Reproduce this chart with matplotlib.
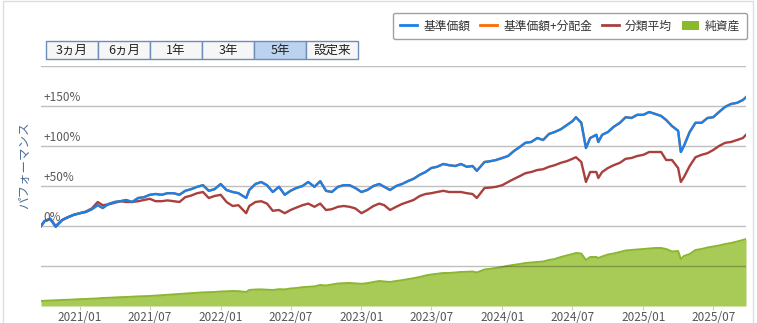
import numpy as np
import pandas as pd
import matplotlib
matplotlib.use("Agg")
import matplotlib.pyplot as plt
import matplotlib.dates as mdates
from matplotlib.patches import Rectangle, Patch
from matplotlib.lines import Line2D

plt.rcParams['font.family'] = ['Noto Sans CJK JP', 'DejaVu Sans']

# --- data (semi-monthly, % change since start / net assets) ---
dates = [
    "2020-09-22", "2020-10-01", "2020-10-16", "2020-10-30", "2020-11-16", "2020-12-01", "2020-12-16",
    "2021-01-01", "2021-01-16", "2021-02-01", "2021-02-16", "2021-03-01", "2021-03-16", "2021-04-01",
    "2021-04-16", "2021-05-01", "2021-05-16", "2021-06-01", "2021-06-16", "2021-07-01", "2021-07-16",
    "2021-08-01", "2021-08-16", "2021-09-01", "2021-09-16", "2021-10-01", "2021-10-16", "2021-11-01",
    "2021-11-16", "2021-12-01", "2021-12-16",
    "2022-01-01", "2022-01-16", "2022-02-01", "2022-02-16", "2022-03-08", "2022-03-16", "2022-04-01",
    "2022-04-16", "2022-05-01", "2022-05-16", "2022-06-01", "2022-06-16", "2022-07-01", "2022-07-16",
    "2022-08-01", "2022-08-16", "2022-09-01", "2022-09-16", "2022-10-01", "2022-10-16", "2022-11-01",
    "2022-11-16", "2022-12-01", "2022-12-16",
    "2023-01-01", "2023-01-16", "2023-02-01", "2023-02-16", "2023-03-01", "2023-03-16", "2023-04-01",
    "2023-04-16", "2023-05-01", "2023-05-16", "2023-06-01", "2023-06-16", "2023-07-01", "2023-07-16",
    "2023-08-01", "2023-08-16", "2023-09-01", "2023-09-16", "2023-10-01", "2023-10-16", "2023-10-27",
    "2023-11-16", "2023-12-01", "2023-12-16",
    "2024-01-01", "2024-01-16", "2024-02-01", "2024-02-16", "2024-03-01", "2024-03-16", "2024-04-01",
    "2024-04-16", "2024-05-01", "2024-05-16", "2024-06-01", "2024-06-16", "2024-07-01", "2024-07-10",
    "2024-07-24", "2024-08-05", "2024-08-16", "2024-09-01", "2024-09-06", "2024-09-16", "2024-10-01",
    "2024-10-16", "2024-11-01", "2024-11-16", "2024-12-01", "2024-12-16",
    "2025-01-01", "2025-01-16", "2025-02-01", "2025-02-16", "2025-03-01", "2025-03-16", "2025-04-01",
    "2025-04-08", "2025-04-16", "2025-05-01", "2025-05-16", "2025-06-01", "2025-06-16", "2025-07-01",
    "2025-07-16", "2025-08-01", "2025-08-16", "2025-09-01", "2025-09-16", "2025-09-24",
]

fund_pct = [
    0, 6, 9, -1, 7.5, 11, 14,
    16, 17.5, 21, 26, 22.5, 27.5, 30, 31, 32.5, 30, 35, 36, 39, 40, 39, 41, 41, 39, 44, 46, 49, 51, 44, 46,
    52.5, 45, 42.5, 41, 35, 45, 52.5, 55, 51, 42.5, 49, 39, 44, 47.5, 50, 55, 49, 56, 44, 42.5, 49, 51, 51, 47.5,
    42.5, 45, 50, 52.5, 49, 45, 50, 52.5, 56, 59, 64, 67.5, 72.5, 74, 77.5, 76, 75, 77.5, 74, 75, 69, 80, 81, 82.5,
    85, 87.5, 94, 99, 104, 105, 110, 107.5, 115, 117.5, 121, 126, 131, 136, 129, 97.5, 110, 114, 105, 114,
    117.5, 124, 129, 136, 135, 139,
    139, 142.5, 140, 137.5, 132.5, 125, 119, 92.5, 100, 117.5, 129, 129, 135, 136, 142.5, 149, 152.5, 154,
    157.5, 161,
]

# no distributions paid, so the distribution-adjusted series equals the NAV series
fund_dist_pct = list(fund_pct)

category_pct = [
    0, 6, 9, 0, 7.5, 11, 14,
    16, 18, 22, 30, 26, 27, 29, 31, 30, 30, 31, 32.5, 34, 31, 31, 32, 31, 30, 36, 38, 41, 42.5, 35, 37.5,
    39, 30, 25, 26, 16, 25, 30, 31, 28, 19, 20, 16, 20, 23, 26, 28, 24, 28, 20, 21, 24, 25, 24, 22,
    16, 20, 25, 28, 26, 20, 24, 27.5, 30, 32.5, 37.5, 40, 41, 42.5, 44, 42.5, 42.5, 42.5, 41, 40, 35, 47.5, 48, 49,
    51, 55, 59, 62.5, 66, 67.5, 70, 71, 74, 76, 79, 81, 84, 86, 80, 55, 67.5, 67.5, 60, 67.5,
    72.5, 76, 79, 84, 85, 87.5,
    89, 92.5, 92.5, 92.5, 82.5, 82.5, 72.5, 55, 61, 75, 86, 89, 91, 95, 100, 104, 105, 107.5, 110, 114,
]

net_assets = [
    50, 52, 55, 57, 60, 62, 65,
    68, 70, 73, 76, 80, 82, 85, 88, 90, 93, 96, 98, 100, 104, 108, 112, 116, 120, 124, 128, 132, 136, 138, 140,
    145, 147, 150, 148, 140, 160, 165, 166, 163, 160, 168, 166, 175, 180, 188, 192, 196, 210, 205, 215,
    225, 228, 230, 226,
    222, 228, 240, 250, 245, 240, 250, 258, 268, 278, 290, 305, 315, 322, 330, 330, 335, 340, 342, 345,
    335, 365, 372, 380,
    390, 402, 412, 420, 430, 435, 440, 445, 460, 470, 490, 505, 520, 530, 525, 460, 490, 490, 480, 495,
    515, 525, 540, 555, 560, 565,
    570, 575, 580, 580, 570, 545, 550, 470, 500, 520, 560, 570, 585, 595, 605, 620, 630, 645, 660, 670,
]

buttons = ["3ヵ月", "6ヵ月", "1年", "3年", "5年", "設定来"]
selected = "5年"
pct_labels = [0, 50, 100, 150]

x = pd.to_datetime(dates)

W, H = 757, 323
fig = plt.figure(figsize=(W / 100, H / 100), dpi=100)

def fx(px):
    return px / W

def fy(py):
    return 1 - py / H

# outer frame of the widget
fig.add_artist(Rectangle((fx(2.5), fy(340)), fx(750), fy(1) - fy(340),
                         transform=fig.transFigure, fill=False, ec="#dddddd", lw=1))

# net assets, drawn behind
ax2 = fig.add_axes([fx(41), fy(306), fx(746 - 41), fy(66) - fy(306)])
ax2.fill_between(x, net_assets, 0, color="#a8cb58", lw=0)
ax2.plot(x, net_assets, color="#8bb630", lw=1.4)
ax2.set_ylim(0, 2400)
ax2.set_xlim(x[0], x[-1])
ax2.axis("off")

ax = fig.add_axes([fx(41), fy(306), fx(746 - 41), fy(66) - fy(306)])
ax.patch.set_visible(False)
ax.set_ylim(-100, 200)
ax.set_xlim(x[0], x[-1])
ax.set_yticks([-50, 0, 50, 100, 150, 200])
ax.yaxis.grid(True, color="black", alpha=0.25, lw=1)
ax.tick_params(axis="y", length=0, labelleft=False)
for s in ax.spines.values():
    s.set_visible(False)

ax.plot(x, fund_dist_pct, color="#ff6a00", lw=1.7)
ax.plot(x, category_pct, color="#a9403c", lw=1.7)
ax.plot(x, fund_pct, color="#1a80ea", lw=1.7)

for v in pct_labels:
    lab = "0%" if v == 0 else "+%d%%" % v
    ax.text(0.003, v + 2, lab, transform=ax.get_yaxis_transform(), ha="left", va="bottom",
            fontsize=8.5, color="#5a5a5a")

ticks = pd.date_range("2021-01-01", "2025-07-01", freq="6MS")
ax.set_xticks(ticks)
ax.xaxis.set_major_formatter(mdates.DateFormatter("%Y/%m"))
ax.tick_params(axis="x", length=3, color="#cccccc", labelsize=8.5, labelcolor="#555555", pad=0.5)

fig.text(fx(25), fy(165), "パフォーマンス", rotation=90, ha="center", va="center",
         fontsize=9, color="#4f6f96")

# period buttons
bx0, bw, by0, by1 = 46, 52, 41, 59
for i, b in enumerate(buttons):
    fc = "#bcd3ef" if b == selected else "#f6f6f6"
    fig.add_artist(Rectangle((fx(bx0 + i * bw), fy(by1)), fx(bw), fy(by0) - fy(by1),
                             transform=fig.transFigure, fc=fc, ec="#6e8db8", lw=1))
    fig.text(fx(bx0 + i * bw + bw / 2), fy((by0 + by1) / 2 + 0.5), b, ha="center", va="center",
             fontsize=9, color="#222222")

# legend
handles = [Line2D([], [], color="#1a80ea", lw=2),
           Line2D([], [], color="#ff6a00", lw=2),
           Line2D([], [], color="#a9403c", lw=2),
           Patch(fc="#8ab92a", ec="none")]
labels = ["基準価額", "基準価額+分配金", "分類平均", "純資産"]
leg = fig.legend(handles, labels, loc="center", bbox_to_anchor=(fx(570), fy(26)), ncol=4,
                 fontsize=8.5, frameon=True, fancybox=True, edgecolor="#888888",
                 handlelength=1.5, handletextpad=0.5, columnspacing=0.8, borderpad=0.55,
                 labelcolor="#333333")
leg.get_frame().set_linewidth(1)

fig.savefig("out.png", dpi=100)
